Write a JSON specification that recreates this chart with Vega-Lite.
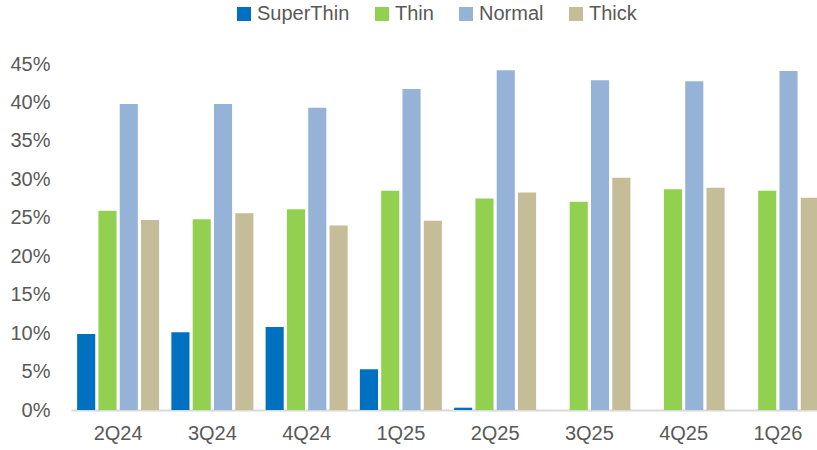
{
  "$schema": "https://vega.github.io/schema/vega-lite/v6.json",
  "width": 754,
  "height": 346,
  "autosize": {"type": "none"},
  "padding": {"left": 71, "top": 64, "right": -8, "bottom": 40},
  "background": "white",
  "config": {
    "view": {"stroke": null},
    "font": "Liberation Sans",
    "axis": {"labelFont": "Liberation Sans", "labelColor": "#595959", "labelFontSize": 20, "grid": false, "ticks": false, "tickSize": 0, "title": null}
  },
  "data": {
    "values": [
      {"quarter": "2Q24", "type": "SuperThin", "share": 0.099},
      {"quarter": "2Q24", "type": "Thin", "share": 0.259},
      {"quarter": "2Q24", "type": "Normal", "share": 0.398},
      {"quarter": "2Q24", "type": "Thick", "share": 0.247},
      {"quarter": "3Q24", "type": "SuperThin", "share": 0.101},
      {"quarter": "3Q24", "type": "Thin", "share": 0.248},
      {"quarter": "3Q24", "type": "Normal", "share": 0.398},
      {"quarter": "3Q24", "type": "Thick", "share": 0.256},
      {"quarter": "4Q24", "type": "SuperThin", "share": 0.108},
      {"quarter": "4Q24", "type": "Thin", "share": 0.261},
      {"quarter": "4Q24", "type": "Normal", "share": 0.393},
      {"quarter": "4Q24", "type": "Thick", "share": 0.240},
      {"quarter": "1Q25", "type": "SuperThin", "share": 0.053},
      {"quarter": "1Q25", "type": "Thin", "share": 0.285},
      {"quarter": "1Q25", "type": "Normal", "share": 0.4175},
      {"quarter": "1Q25", "type": "Thick", "share": 0.246},
      {"quarter": "2Q25", "type": "SuperThin", "share": 0.003},
      {"quarter": "2Q25", "type": "Thin", "share": 0.275},
      {"quarter": "2Q25", "type": "Normal", "share": 0.442},
      {"quarter": "2Q25", "type": "Thick", "share": 0.283},
      {"quarter": "3Q25", "type": "SuperThin", "share": 0},
      {"quarter": "3Q25", "type": "Thin", "share": 0.271},
      {"quarter": "3Q25", "type": "Normal", "share": 0.429},
      {"quarter": "3Q25", "type": "Thick", "share": 0.302},
      {"quarter": "4Q25", "type": "SuperThin", "share": 0},
      {"quarter": "4Q25", "type": "Thin", "share": 0.287},
      {"quarter": "4Q25", "type": "Normal", "share": 0.4275},
      {"quarter": "4Q25", "type": "Thick", "share": 0.289},
      {"quarter": "1Q26", "type": "SuperThin", "share": 0},
      {"quarter": "1Q26", "type": "Thin", "share": 0.285},
      {"quarter": "1Q26", "type": "Normal", "share": 0.441},
      {"quarter": "1Q26", "type": "Thick", "share": 0.276}
    ]
  },
  "mark": {"type": "bar"},
  "encoding": {
    "x": {
      "field": "quarter", "type": "nominal", "sort": null,
      "scale": {"paddingInner": 0.13, "paddingOuter": 0.065},
      "axis": {"labelAngle": 0, "labelPadding": 13, "domain": true, "domainColor": "#d9d9d9", "domainWidth": 2}
    },
    "xOffset": {
      "field": "type", "type": "nominal",
      "sort": ["SuperThin", "Thin", "Normal", "Thick"],
      "scale": {"paddingInner": 0.15, "paddingOuter": 0}
    },
    "y": {
      "field": "share", "type": "quantitative",
      "scale": {"domain": [0, 0.45], "nice": false},
      "axis": {"format": ".0%", "values": [0, 0.05, 0.1, 0.15, 0.2, 0.25, 0.3, 0.35, 0.4, 0.45], "domain": false, "labelPadding": 21}
    },
    "color": {
      "field": "type", "type": "nominal",
      "sort": ["SuperThin", "Thin", "Normal", "Thick"],
      "scale": {"domain": ["SuperThin", "Thin", "Normal", "Thick"], "range": ["#0070C0", "#92D050", "#95B3D7", "#C4BD97"]},
      "legend": {
        "title": null, "orient": "none", "direction": "horizontal",
        "legendX": 163, "legendY": -60, "padding": 0,
        "symbolType": "square", "symbolSize": 196, "symbolStrokeWidth": 0,
        "labelFont": "Liberation Sans", "labelFontSize": 20, "labelColor": "#595959",
        "labelOffset": 3, "columnPadding": 22
      }
    }
  }
}
